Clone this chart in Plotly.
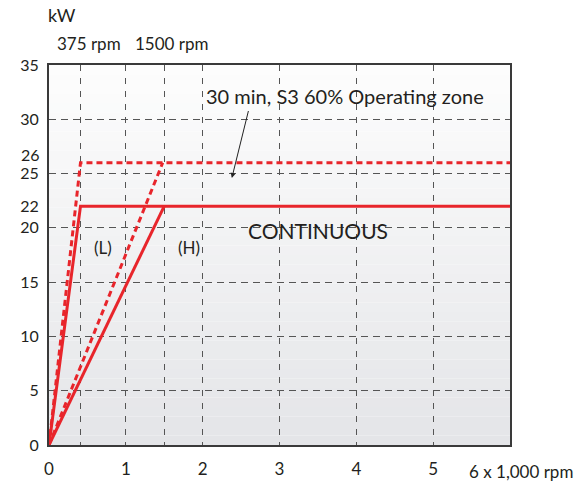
import plotly.graph_objects as go

# ---- data ----
cont_L_x = [0, 0.41, 6]
cont_L_y = [0, 22, 22]
cont_H_x = [0, 1.5]
cont_H_y = [0, 22]
s3_L_x = [0, 0.41, 6]
s3_L_y = [0, 26, 26]
s3_H_x = [0, 1.48]
s3_H_y = [0, 26]

x_tickvals = [0, 1, 2, 3, 4, 5]
x_ticktext = ["0", "1", "2", "3", "4", "5"]
x_gridvals = [0.41, 1, 1.5, 2, 3, 4, 5]
y_tickvals = [0, 5, 10, 15, 20, 22, 25, 30, 35]
y_gridvals = [5, 10, 15, 20, 25, 30]

RED = "#e8252b"
FONT = "Lato"
TXT = "#231f20"

fig = go.Figure()

# gradient background bands
n = 40
top = (253, 253, 253)
bot = (228, 229, 232)
for i in range(n):
    t = i / (n - 1)
    c = tuple(int(round(top[k] + (bot[k] - top[k]) * t)) for k in range(3))
    fig.add_shape(type="rect", xref="x domain", yref="y domain",
                  x0=0, x1=1, y0=1 - (i + 1) / n, y1=1 - i / n,
                  fillcolor="rgb(%d,%d,%d)" % c, line_width=0, layer="below")

fig.add_trace(go.Scatter(x=cont_L_x, y=cont_L_y, mode="lines",
                         line=dict(color=RED, width=3), showlegend=False))
fig.add_trace(go.Scatter(x=cont_H_x, y=cont_H_y, mode="lines",
                         line=dict(color=RED, width=3), showlegend=False))
fig.add_trace(go.Scatter(x=s3_L_x, y=s3_L_y, mode="lines",
                         line=dict(color=RED, width=3, dash="6px,4px"), showlegend=False))
fig.add_trace(go.Scatter(x=s3_H_x, y=s3_H_y, mode="lines",
                         line=dict(color=RED, width=3, dash="6px,4px"), showlegend=False))

fig.update_layout(
    width=576, height=484,
    margin=dict(l=49, r=66, t=65, b=39, autoexpand=False),
    paper_bgcolor="white", plot_bgcolor="rgba(0,0,0,0)",
    font=dict(family=FONT, size=16, color=TXT),
    xaxis=dict(range=[0, 6], tickmode="array", tickvals=x_tickvals, ticktext=x_ticktext,
               automargin=False,
               showgrid=False, zeroline=False, ticks="outside", ticklen=8,
               tickcolor="rgba(0,0,0,0)", showline=True, mirror=True,
               linecolor="#3a3a3a", linewidth=2, tickfont=dict(size=17),
               minor=dict(tickmode="array", tickvals=x_gridvals, showgrid=True,
                          gridcolor="#555555", gridwidth=1.2, griddash="6px,7px", ticks="")),
    yaxis=dict(range=[0, 35], tickmode="array", tickvals=y_tickvals,
               automargin=False,
               showgrid=False, zeroline=False, ticks="outside", ticklen=5,
               tickcolor="rgba(0,0,0,0)", showline=True, mirror=True,
               linecolor="#3a3a3a", linewidth=2, tickfont=dict(size=16),
               minor=dict(tickmode="array", tickvals=y_gridvals, showgrid=True,
                          gridcolor="#555555", gridwidth=1.2, griddash="7px,5px", ticks="")),
)

def px(x):
    return (x - 49) / 461

def py(y):
    return (445 - y) / 380

fig.add_annotation(text="kW", xref="paper", yref="paper", x=px(46), y=py(15),
                   xanchor="left", yanchor="middle", showarrow=False,
                   font=dict(size=18, color=TXT))
for txt, cx, cy in [("375 rpm", 89, 43), ("1500 rpm", 172, 43), ("6 x 1,000 rpm", 521, 472)]:
    fig.add_annotation(text=txt, xref="paper", yref="paper", x=px(cx), y=py(cy),
                       xanchor="center", yanchor="middle", showarrow=False,
                       font=dict(size=17, color=TXT))
# separate "26" tick label (placed slightly above its line, as in the original)
fig.add_annotation(text="26", xref="paper", yref="paper", x=px(42), y=py(154),
                   xanchor="right", yanchor="middle", showarrow=False,
                   font=dict(size=16, color=TXT))

fig.add_annotation(text="30 min, S3 60% Operating zone", x=3.85, y=32.1,
                   showarrow=False, font=dict(size=20, color=TXT))
fig.add_annotation(text="", x=2.38, y=24.6, ax=2.6, ay=30.9, axref="x", ayref="y",
                   showarrow=True, arrowhead=2, arrowsize=1, arrowwidth=1, arrowcolor="#222")
fig.add_annotation(text="CONTINUOUS", x=3.5, y=19.8, showarrow=False,
                   font=dict(size=21, color=TXT))
fig.add_annotation(text="(L)", x=0.70, y=18.2, showarrow=False, font=dict(size=17, color=TXT))
fig.add_annotation(text="(H)", x=1.82, y=18.2, showarrow=False, font=dict(size=17, color=TXT))

fig.write_html("out.html", config={"displayModeBar": False},
               post_script="document.body.style.margin='0px';document.body.style.overflow='hidden';")
